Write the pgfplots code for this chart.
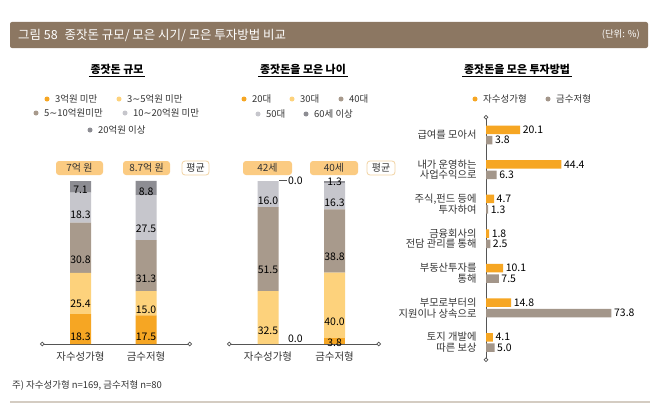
\documentclass[border=0pt]{standalone}
\usepackage{pgfplots}
\pgfplotsset{compat=1.18}
\usetikzlibrary{arrows.meta}
\usepackage{fontspec}
\setmainfont{Noto Sans CJK KR}
\newfontfamily\dv{DejaVu Sans}
\definecolor{cOr}{HTML}{F6A623}
\definecolor{cYe}{HTML}{FDD27C}
\definecolor{cTa}{HTML}{A89A8C}
\definecolor{cLg}{HTML}{C6C6CC}
\definecolor{cDg}{HTML}{8D8D93}
\definecolor{cGr3}{HTML}{A3968A}
\definecolor{cTitle}{HTML}{8C7762}
\definecolor{cBox}{HTML}{FBCB82}
\definecolor{cBoxB}{HTML}{F2D3A3}
\definecolor{cTxt}{HTML}{333333}
\definecolor{cAx}{HTML}{555555}
\definecolor{cFoot}{HTML}{D4CCC2}
\pgfkeys{/pgf/number format/.cd,fixed,fixed zerofill,precision=1,assume math mode=true}
\newcommand{\fs}[2]{\fontsize{#1}{#2}\selectfont}
\newcommand{\tl}{{\dv ∼}}
\begin{document}
\begin{tikzpicture}[x=1bp,y=1bp]
\path[use as bounding box, fill=white] (0,0) rectangle (658,413);
% title bar
\fill[cTitle, rounded corners=2bp] (10,365) rectangle (648,391);
\node[anchor=west, text=white, inner sep=0] at (18,378) {\fs{12.5}{14}그림 58\hspace{7bp}종잣돈 규모/ 모은 시기/ 모은 투자방법 비교};
\node[anchor=east, text=white, inner sep=0] at (640,378) {\fs{9.5}{11}(단위: \%)};
% panel titles
\foreach \x/\t in {117/종잣돈 규모, 303/종잣돈을 모은 나이, 517/종잣돈을 모은 투자방법}{
  \node[inner sep=1.5bp, font=\fs{11}{13}\bfseries] (tt) at (\x,344) {\t};
  \draw[line width=0.7bp] (tt.south west) -- (tt.south east);
}
% legends
\tikzset{ld/.style={circle, inner sep=0, minimum size=5bp}, lt/.style={anchor=west, inner sep=0, font=\fs{9.5}{11}, text=cTxt}}
\foreach \x/\y/\c/\t in {47/314/cOr/3억원 미만, 119/314/cYe/3\tl5억원 미만, 36/300/cTa/5\tl10억원미만, 125/300/cLg/10\tl20억원 미만, 90/283/cDg/20억원 이상,
  244/314/cOr/20대, 292/314/cYe/30대, 341/314/cTa/40대, 258/299/cLg/50대, 306/299/cDg/60세 이상,
  475/314/cOr/자수성가형, 548/314/cGr3/금수저형}{
  \node[ld, fill=\c] at (\x,\y) {};
  \node[lt] at (\x+8,\y) {\t};
}
% average boxes
\foreach \a/\b/\t in {56/103/7억 원, 123/170/8.7억 원, 243/292/42세, 310/358/40세}{
  \fill[cBox, rounded corners=3bp] (\a,238) rectangle (\b,252);
  \node[font=\fs{10}{12}, text=cTxt, inner sep=0] at ({(\a+\b)/2},245) {\t};
}
\foreach \a/\b in {182/209, 367/395}{
  \draw[cBoxB, fill=white, rounded corners=3bp, line width=0.8bp] (\a,238) rectangle (\b,252);
  \node[font=\fs{10}{12}, text=cTxt, inner sep=0] at ({(\a+\b)/2},245) {평균};
}
\pgfplotsset{
  stk/.style={
    ybar stacked, scale only axis, width=152bp, height=163bp,
    xmin=-0.618, xmax=1.70, ymin=0, ymax=100, clip=false,
    bar width=21bp,
    axis x line=bottom, axis y line=none,
    x axis line style={cAx, line width=0.8bp, {Circle[length=4.5bp, fill=white]}-{Circle[length=4.5bp, fill=white]}},
    xtick={0,1}, xticklabels={자수성가형,금수저형}, major tick length=0,
    xticklabel style={font=\fs{10.5}{12}, text=cTxt, yshift=-4bp},
    ytick=\empty,
    nodes near coords={\pgfmathfloatifflags{\pgfplotspointmeta}{0}{}{\pgfmathprintnumber{\pgfplotspointmeta}}},
    nodes near coords style={font=\fs{10.5}{12}, text=black, anchor=center, inner sep=0},
    visualization depends on=rawy \as \rawy,
    every node near coord/.append style={shift={(axis direction cs:0,-\rawy/4)}},
  }
}
% panel 1
\begin{axis}[stk, at={(40bp,69bp)}, anchor=south west]
\addplot[fill=cOr, draw=none] coordinates {(0,18.3) (1,17.5)};
\addplot[fill=cYe, draw=none] coordinates {(0,25.4) (1,15.0)};
\addplot[fill=cTa, draw=none] coordinates {(0,30.8) (1,31.3)};
\addplot[fill=cLg, draw=none] coordinates {(0,18.3) (1,27.5)};
\addplot[fill=cDg, draw=none] coordinates {(0,7.1) (1,8.8)};
\end{axis}
% panel 2
\begin{axis}[stk, at={(227bp,69bp)}, anchor=south west, width=154bp, xmin=-0.616, xmax=1.697]
\addplot[fill=cOr, draw=none] coordinates {(0,0.0) (1,3.8)};
\addplot[fill=cYe, draw=none] coordinates {(0,32.5) (1,40.0)};
\addplot[fill=cTa, draw=none] coordinates {(0,51.5) (1,38.8)};
\addplot[fill=cLg, draw=none] coordinates {(0,16.0) (1,16.3)};
\addplot[fill=cDg, draw=none] coordinates {(0,0.0) (1,1.3)};
\node[font=\fs{10.5}{12}, inner sep=0] at (axis cs:0.41,3) {0.0};
\node[font=\fs{10.5}{12}, inner sep=0] at (axis cs:0.41,100) {0.0};
\end{axis}
\draw[cAx, line width=0.6bp] (279,233) -- (287,233);
% panel 3
\begin{axis}[xbar, scale only axis, at={(486bp,51bp)}, anchor=south west, width=153bp, height=247bp,
  xmin=0, xmax=90, ymin=-0.564, ymax=6.578, clip=false,
  bar width=8.5bp,
  axis y line=left, axis x line=none,
  y axis line style={cAx, line width=0.8bp, {Circle[length=4.5bp, fill=white]}-{Circle[length=4.5bp, fill=white]}},
  ytick={0,...,6}, major tick length=0, xtick=\empty,
  yticklabels={{토지 개발에\\따른 보상},{부모로부터의\\지원이나 상속으로},{부동산투자를\\통해},{금융회사의\\전담 관리를 통해},{주식,펀드 등에\\투자하여},{내가 운영하는\\사업수익으로},{급여를 모아서}},
  yticklabel style={align=right, font=\fs{10.3}{10.8}, text=cTxt, xshift=-6bp},
  nodes near coords,
  nodes near coords style={font=\fs{10.5}{12}, text=black, anchor=west, inner sep=2.5bp},
]
\addplot[fill=cOr, draw=none, bar shift=5.2bp] coordinates {(4.1,0) (14.8,1) (10.1,2) (1.8,3) (4.7,4) (44.4,5) (20.1,6)};
\addplot[fill=cGr3, draw=none, bar shift=-5.2bp] coordinates {(5.0,0) (73.8,1) (7.5,2) (2.5,3) (1.3,4) (6.3,5) (3.8,6)};
\end{axis}
% footnote
\node[anchor=west, inner sep=0, font=\fs{9.5}{11}, text=cTxt] at (12,28) {주) 자수성가형 n=169, 금수저형 n=80};
\draw[cFoot, line width=1.5bp] (10,11) -- (650,11);
\end{tikzpicture}
\end{document}
